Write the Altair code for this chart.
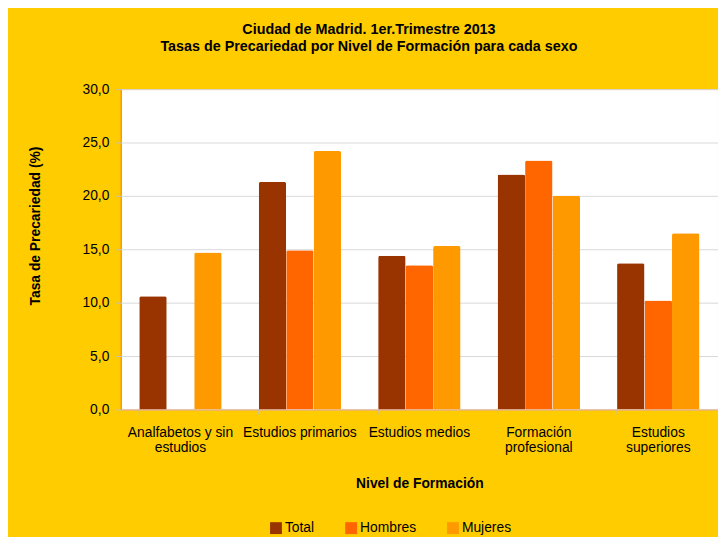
import altair as alt
import pandas as pd

categorias = ["Analfabetos y sin\nestudios", "Estudios primarios", "Estudios medios",
              "Formación\nprofesional", "Estudios\nsuperiores"]
series = ["Total", "Hombres", "Mujeres"]
total = [10.6, 21.3, 14.4, 22.0, 13.7]
hombres = [None, 14.9, 13.5, 23.3, 10.2]
mujeres = [14.7, 24.2, 15.3, 20.0, 16.5]
colores = ["#993300", "#FF6600", "#FF9900"]
y_ticks = [0, 5, 10, 15, 20, 25, 30]

rows = []
for i, c in enumerate(categorias):
    for s, vals in zip(series, [total, hombres, mujeres]):
        if vals[i] is not None:
            rows.append({"cat": c, "serie": s, "valor": vals[i]})
df = pd.DataFrame(rows)
df_cats = pd.DataFrame({"cat": categorias})

FONT = "Liberation Sans"

x_axis = alt.Axis(title="Nivel de Formación", labelAngle=0,
                  labelExpr="split(datum.label, '\\n')",
                  ticks=False, domain=False, labelPadding=16, titlePadding=22,
                  labelFontSize=14, labelLineHeight=16, labelColor="#000000",
                  titleFontSize=14, titleFontWeight="bold", titleColor="#000000",
                  labelFont=FONT, titleFont=FONT)

bars = alt.Chart(df).mark_bar(cornerRadiusTopLeft=2, cornerRadiusTopRight=2).encode(
    x=alt.X("cat:N", sort=categorias,
            scale=alt.Scale(paddingInner=0.31, paddingOuter=0.155),
            axis=x_axis),
    xOffset=alt.XOffset("serie:N", sort=series,
                        scale=alt.Scale(domain=series, paddingInner=0, paddingOuter=0)),
    y=alt.Y("valor:Q", scale=alt.Scale(domain=[0, 30]),
            axis=alt.Axis(values=y_ticks, title="Tasa de Precariedad (%)",
                          labelExpr="replace(format(datum.value, '.1f'), '.', ',')",
                          domain=False, tickSize=5, tickColor="#BFBFBF",
                          labelPadding=7, labelFontSize=14, labelColor="#000000",
                          labelFont=FONT, titleFont=FONT,
                          titleFontSize=14, titleFontWeight="bold", titleColor="#000000",
                          titleX=-79, titleY=138,
                          grid=True, gridColor="#D9D9D9")),
    color=alt.Color("serie:N", sort=series,
                    scale=alt.Scale(domain=series, range=colores),
                    legend=alt.Legend(title=None, orient="none", direction="horizontal",
                                      legendX=150, legendY=437, symbolType="square",
                                      symbolSize=144, symbolStrokeWidth=0,
                                      labelFontSize=14, labelFont=FONT, labelColor="#000000",
                                      labelOffset=2, columnPadding=30, padding=0)),
)

ticks = alt.Chart(df_cats).mark_rule(color="#BFBFBF").encode(
    x=alt.X("cat:N", sort=categorias, bandPosition=0, title="Nivel de Formación"),
    y=alt.value(324),
    y2=alt.value(329),
)

chart = alt.layer(bars, ticks).properties(
    width=604,
    height=324,
    autosize=alt.AutoSizeParams(type="none"),
    padding={"left": 114, "top": 79, "right": 0, "bottom": 126},
    background="#FFCC00",
    title=alt.TitleParams(
        ["Ciudad de Madrid. 1er.Trimestre 2013",
         "Tasas de Precariedad por Nivel de Formación para cada sexo"],
        font=FONT, fontSize=14.5, fontWeight="bold", color="#000000",
        anchor="middle", dx=-51, offset=28, lineHeight=17),
).configure_view(
    fill="#FFFFFF", stroke="#FF6600", strokeWidth=1
)

chart.save("out.html", embed_options={"renderer": "svg", "actions": False})
